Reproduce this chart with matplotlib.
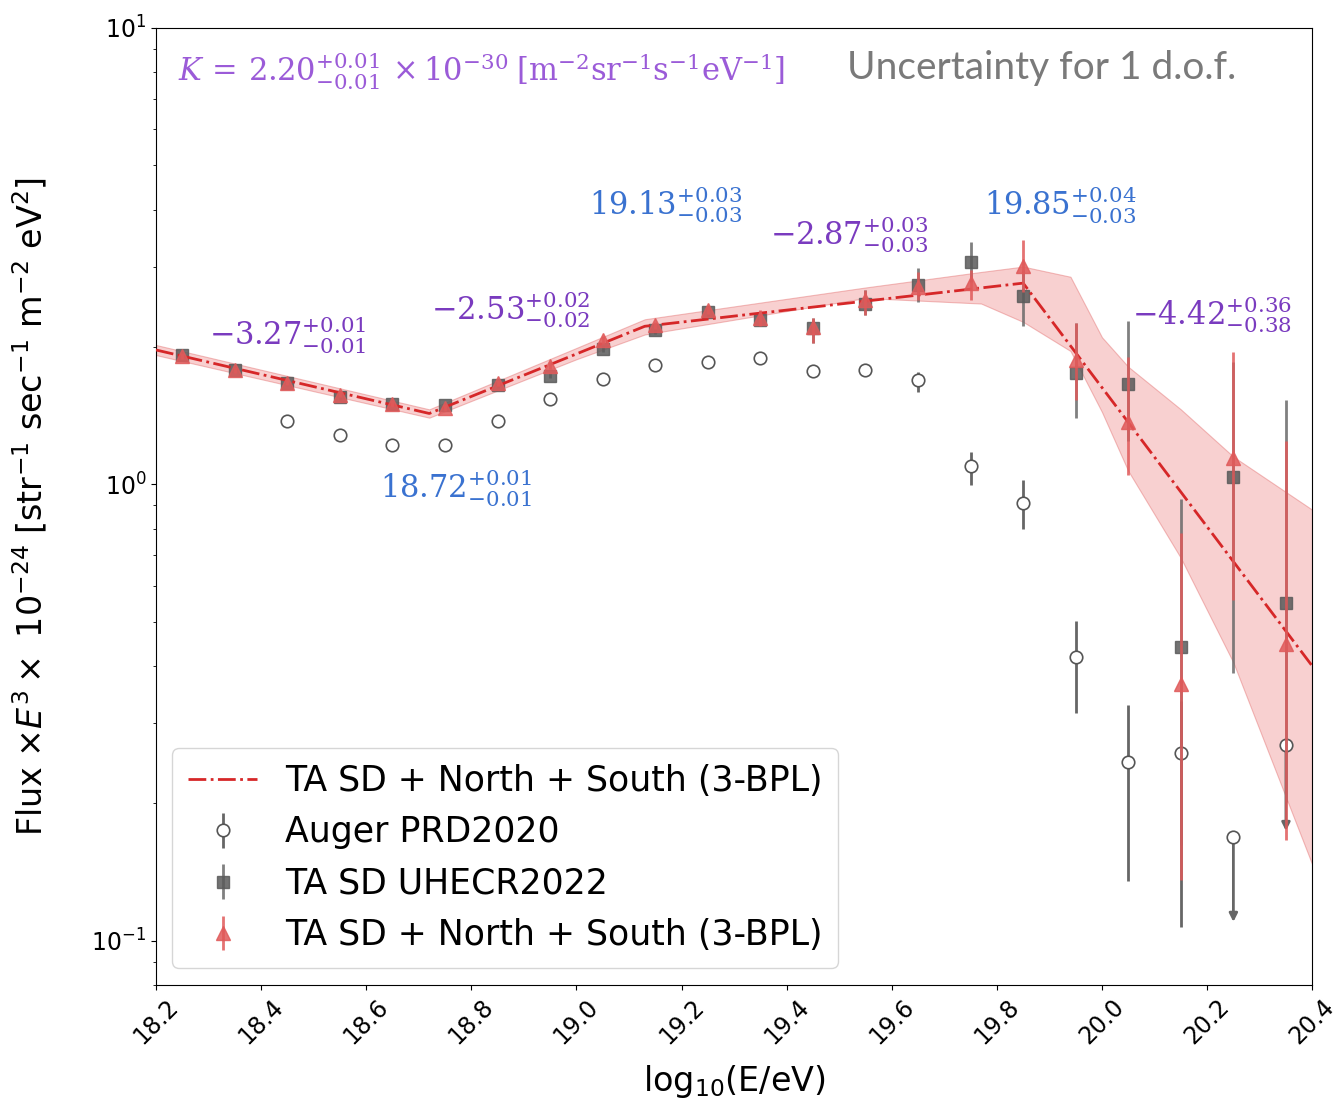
import numpy as np
import matplotlib
matplotlib.use("Agg")
import matplotlib.pyplot as plt

plt.rcParams["mathtext.fontset"] = "dejavuserif"

# ---------------- data ----------------
energy_bins = [18.25, 18.35, 18.45, 18.55, 18.65, 18.75, 18.85, 18.95, 19.05, 19.15, 19.25,
               19.35, 19.45, 19.55, 19.65, 19.75, 19.85, 19.95, 20.05, 20.15, 20.25, 20.35]

# TA SD + North + South (triangles)
tri_y  = [1.91, 1.78, 1.67, 1.57, 1.50, 1.47, 1.665, 1.82, 2.07, 2.23, 2.41,
          2.31, 2.21, 2.53, 2.70, 2.76, 3.01, 1.87, 1.37, 0.366, 1.14, 0.448]
tri_lo = [1.88, 1.75, 1.65, 1.55, 1.48, 1.45, 1.64, 1.79, 2.03, 2.19, 2.36,
          2.22, 2.04, 2.35, 2.53, 2.53, 2.64, 1.53, 1.046, 0.136, 0.557, 0.166]
tri_hi = [1.94, 1.81, 1.70, 1.60, 1.53, 1.50, 1.69, 1.85, 2.11, 2.27, 2.46,
          2.41, 2.32, 2.66, 2.92, 2.95, 3.43, 2.255, 1.90, 0.781, 1.948, 1.243]

# TA SD UHECR2022 (squares)
sq_y  = [1.92, 1.78, 1.665, 1.55, 1.50, 1.49, 1.65, 1.73, 1.98, 2.18, 2.38,
         2.29, 2.20, 2.49, 2.73, 3.07, 2.58, 1.75, 1.66, 0.44, 1.04, 0.55]
sq_lo = [1.90, 1.76, 1.645, 1.53, 1.48, 1.47, 1.63, 1.71, 1.95, 2.14, 2.33,
         2.22, 2.04, 2.35, 2.51, 2.77, 2.22, 1.395, 1.243, 0.162, 0.387, 0.201]
sq_hi = [1.94, 1.80, 1.685, 1.57, 1.52, 1.51, 1.67, 1.75, 2.01, 2.22, 2.43,
         2.36, 2.32, 2.66, 2.98, 3.39, 2.95, 2.255, 2.278, 0.927, 1.85, 1.528]

# Auger PRD2020 (open circles)
aug_x  = [18.45, 18.55, 18.65, 18.75, 18.85, 18.95, 19.05, 19.15, 19.25, 19.35,
          19.45, 19.55, 19.65, 19.75, 19.85, 19.95, 20.05, 20.15]
aug_y  = [1.375, 1.28, 1.22, 1.22, 1.38, 1.536, 1.70, 1.824, 1.85, 1.89,
          1.77, 1.78, 1.69, 1.095, 0.909, 0.418, 0.246, 0.258]
aug_lo = [1.36, 1.265, 1.205, 1.205, 1.365, 1.52, 1.68, 1.80, 1.82, 1.86,
          1.74, 1.75, 1.59, 0.995, 0.80, 0.316, 0.135, 0.107]
aug_hi = [1.39, 1.295, 1.235, 1.235, 1.395, 1.55, 1.72, 1.85, 1.88, 1.92,
          1.80, 1.81, 1.76, 1.175, 1.02, 0.503, 0.328, 0.336]
# Auger upper limits
aug_ul_x = [20.25, 20.35]
aug_ul_y = [0.169, 0.268]
aug_ul_end = [0.110, 0.174]

# 3-BPL fit line vertices (break points)
fit_x = [18.2, 18.72, 19.13, 19.85, 20.4]
fit_y = [1.97, 1.43, 2.22, 2.76, 0.40]

# uncertainty band
band_x  = [18.2, 18.72, 19.0, 19.13, 19.55, 19.77, 19.85, 19.94, 20.0, 20.05, 20.15, 20.25, 20.4]
band_hi = [2.02, 1.46, 1.99, 2.30, 2.70, 2.92, 3.00, 2.85, 2.10, 1.81, 1.46, 1.15, 0.88]
band_lo = [1.92, 1.40, 1.88, 2.13, 2.56, 2.49, 2.27, 1.96, 1.44, 1.07, 0.69, 0.407, 0.147]

xticks = [18.2, 18.4, 18.6, 18.8, 19.0, 19.2, 19.4, 19.6, 19.8, 20.0, 20.2, 20.4]

# ---------------- figure ----------------
fig = plt.figure(figsize=(13.39, 11.09), dpi=100)
ax = fig.add_axes([0.1165, 0.1118, 0.8635, 0.863])

red = "#d62728"
tri_col = "#e05a5a"
gray = "#5a5a5a"

ax.fill_between(band_x, band_lo, band_hi, color="#ef8a8a", alpha=0.40,
                edgecolor="#e06060", linewidth=0.8, zorder=1)
fit_line, = ax.plot(fit_x, fit_y, color=red, linestyle="-.", linewidth=2.0, zorder=5,
                    label="TA SD + North + South (3-BPL)")

aug = ax.errorbar(aug_x, aug_y,
                  yerr=[np.array(aug_y) - np.array(aug_lo), np.array(aug_hi) - np.array(aug_y)],
                  fmt="o", ms=9, mfc="white", mec="#555555", mew=1.2, ecolor="#666666",
                  elinewidth=2.0, capsize=0, zorder=3, label="Auger PRD2020")
ax.plot(aug_ul_x, aug_ul_y, "o", ms=9, mfc="white", mec="#555555", mew=1.2, zorder=4)
for xx, yy, ee in zip(aug_ul_x, aug_ul_y, aug_ul_end):
    ax.annotate("", xy=(xx, ee), xytext=(xx, yy),
                arrowprops=dict(arrowstyle="-|>", color="#666666", lw=2.0,
                                mutation_scale=12, shrinkA=0, shrinkB=0), zorder=3)

sq = ax.errorbar(energy_bins, sq_y,
                 yerr=[np.array(sq_y) - np.array(sq_lo), np.array(sq_hi) - np.array(sq_y)],
                 fmt="s", ms=9, color=gray, mfc=gray, mec=gray, alpha=0.85, ecolor="#6a6a6a",
                 elinewidth=2.0, capsize=0, zorder=4, label="TA SD UHECR2022")

tri = ax.errorbar(energy_bins, tri_y,
                  yerr=[np.array(tri_y) - np.array(tri_lo), np.array(tri_hi) - np.array(tri_y)],
                  fmt="^", ms=10, color=tri_col, mfc=tri_col, mec=tri_col, alpha=0.85,
                  ecolor=tri_col, elinewidth=2.0, capsize=0, zorder=6,
                  label="TA SD + North + South (3-BPL)")

ax.set_yscale("log")
ax.set_xlim(18.2, 20.4)
ax.set_ylim(0.08, 10)
ax.set_xticks(xticks)
ax.set_xticklabels([f"{t:.1f}" for t in xticks], rotation=45, fontsize=17)
ax.tick_params(axis="y", labelsize=17)

ax.set_xlabel(r"log$_{10}$(E/eV)", fontsize=24, labelpad=10, math_fontfamily="dejavusans")
ax.set_ylabel(r"Flux $\times E^3\times$ 10$^{-24}$ [str$^{-1}$ sec$^{-1}$ m$^{-2}$ eV$^2$]",
              fontsize=24, math_fontfamily="dejavusans")
ax.yaxis.set_label_coords(-0.092, 0.50)

purple = "#7a3bbf"
kpurple = "#9b5bd8"
blue = "#3a72d0"
ann = dict(ha="center", va="center", fontsize=22)
ax.text(18.45, 2.12, r"$-3.27^{+0.01}_{-0.01}$", color=purple, **ann)
ax.text(18.875, 2.41, r"$-2.53^{+0.02}_{-0.02}$", color=purple, **ann)
ax.text(18.77, 0.98, r"$18.72^{+0.01}_{-0.01}$", color=blue, **ann)
ax.text(19.17, 4.09, r"$19.13^{+0.03}_{-0.03}$", color=blue, **ann)
ax.text(19.52, 3.52, r"$-2.87^{+0.03}_{-0.03}$", color=purple, **ann)
ax.text(19.92, 4.09, r"$19.85^{+0.04}_{-0.03}$", color=blue, **ann)
ax.text(20.21, 2.35, r"$-4.42^{+0.36}_{-0.38}$", color=purple, **ann)

ax.text(0.019, 0.955,
        r"$K\,=\,2.20^{+0.01}_{-0.01}\,\times 10^{-30}\;[\mathrm{m}^{-2}\mathrm{sr}^{-1}\mathrm{s}^{-1}\mathrm{eV}^{-1}]$",
        transform=ax.transAxes, ha="left", va="center", fontsize=22, color=kpurple)
ax.text(0.598, 0.958, "Uncertainty for 1 d.o.f.", transform=ax.transAxes,
        ha="left", va="center", fontsize=28, color="#7a7a7a", family="Lato")

leg = ax.legend(handles=[fit_line, aug, sq, tri], loc="lower left",
                bbox_to_anchor=(0.014, 0.018), borderaxespad=0, fontsize=25, frameon=True,
                handlelength=2.0, borderpad=0.45, labelspacing=0.5)
leg.get_frame().set_edgecolor("#cccccc")

fig.savefig("out.png", dpi=100)
